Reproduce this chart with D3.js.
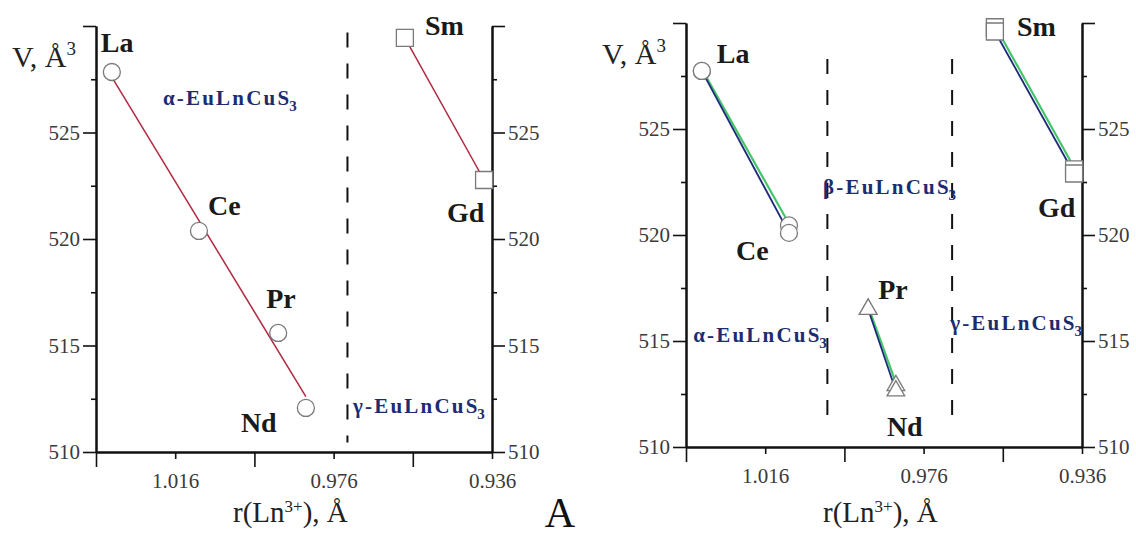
<!DOCTYPE html>
<html>
<head>
<meta charset="utf-8">
<script src="https://cdn.jsdelivr.net/npm/d3@7"></script>
<style>
body { margin:0; background:#fff; }
svg { display:block; }
svg text { font-family:"Liberation Serif","Times New Roman",serif; }
</style>
</head>
<body>
<svg id="chart" width="1136" height="537"></svg>
<script>

// ---- data ----
var elements = ["La", "Ce", "Pr", "Nd", "Sm", "Gd"];
var radii    = [1.032, 1.010, 0.990, 0.983, 0.958, 0.938];

// left plot: one set of volumes
var volLeft  = [527.84, 520.38, 515.59, 512.07, 529.44, 522.77];
var markLeft = ["circle", "circle", "circle", "circle", "square", "square"];
var fitLeftX = [1.032, 0.983];
var fitLeftY = [527.6, 512.6];
var dashLeft = [0.9725];

// right plot: two near-identical series (blue / green)
var volRightBlue  = [527.74, 520.10, 516.50, 512.65, 529.60, 522.90];
var volRightGreen = [527.74, 520.45, 516.50, 512.90, 529.80, 523.10];
var markRight = ["circle", "circle", "triangle", "triangle", "square", "square"];
var segRight  = [[0, 1], [2, 3], [4, 5]];
var dashRight = [1.0003, 0.9688];

var xTicksLong    = [1.036, 0.996, 0.956];
var xTicksLabeled = [1.016, 0.976, 0.936];
var yTicksMajor   = [510, 515, 520, 525, 530];
var yTicksMinor   = [512.5, 517.5, 522.5, 527.5];

var phaseLeft  = ["α", "γ"];
var phaseRight = ["α", "β", "γ"];
// [r, V] where each phase name starts
var phaseLeftAt  = [[1.0191, 526.29], [0.9711, 511.83]];
var phaseRightAt = [[1.0342, 514.95], [1.0014, 521.93], [0.9693, 515.52]];

// ---- layout ----
var svg = d3.select("#chart");
var serif = "'Liberation Serif', 'Times New Roman', serif";

var panels = [
    {left:96, right:492, top:26, bottom:452, dashSpan:[510.45, 529.7]},
    {left:686, right:1082, top:23, bottom:447, dashSpan:[510.9, 528.3]}
];

// label offsets from the point (px)
var labOffLeft = {La:[-11,-20], Ce:[9,-16], Pr:[-12,-25], Nd:[-65,24], Sm:[20,-3], Gd:[-37,42]};
var labOffRight = {La:[15,-8], Ce:[-53,27], Pr:[10,-10], Nd:[-9,45], Sm:[22,5], Gd:[-36,43]};

var symbols = {circle:d3.symbolCircle, square:d3.symbolSquare, triangle:d3.symbolTriangle};
var symSize = {circle:Math.PI*8.5*8.5, square:17*17, triangle:135};

var makeScales = function(p)
{
    var x = d3.scaleLinear().domain([1.036, 0.936]).range([p.left, p.right]);
    var y = d3.scaleLinear().domain([510, 530]).range([p.bottom, p.top]);
    return {x:x, y:y};
}

var drawAxes = function(p, s)
{
    var axes = svg.append("g");
    var bottom = "translate(0," + p.bottom + ")";

    axes.append("g").attr("transform", bottom)
        .call(d3.axisBottom(s.x).tickValues(xTicksLong).tickSize(15).tickSizeOuter(0).tickFormat(""));
    axes.append("g").attr("transform", bottom).attr("class", "lab")
        .call(d3.axisBottom(s.x).tickValues(xTicksLabeled).tickSize(7).tickSizeOuter(0)
            .tickPadding(14).tickFormat(d3.format(".3f")));

    var yFmt = function(d) { return d == 530 ? "" : d; };
    axes.append("g").attr("transform", "translate(" + p.left + ",0)").attr("class", "lab")
        .call(d3.axisLeft(s.y).tickValues(yTicksMajor).tickSize(13).tickSizeOuter(0).tickPadding(3).tickFormat(yFmt));
    axes.append("g").attr("transform", "translate(" + p.left + ",0)")
        .call(d3.axisLeft(s.y).tickValues(yTicksMinor).tickSize(5).tickSizeOuter(0).tickFormat(""));
    axes.append("g").attr("transform", "translate(" + p.right + ",0)").attr("class", "lab")
        .call(d3.axisRight(s.y).tickValues(yTicksMajor).tickSize(13).tickSizeOuter(0).tickPadding(3).tickFormat(yFmt));
    axes.append("g").attr("transform", "translate(" + p.right + ",0)")
        .call(d3.axisRight(s.y).tickValues(yTicksMinor).tickSize(5).tickSizeOuter(0).tickFormat(""));

    axes.selectAll("g").attr("font-family", serif);
    axes.selectAll(".domain").attr("stroke", "#111").attr("stroke-width", 2);
    axes.selectAll(".tick line").attr("stroke", "#111").attr("stroke-width", 1.6);
    axes.selectAll(".lab text")
        .attr("font-family", serif)
        .attr("font-size", 21)
        .attr("fill", "#3a3a3a");

    // axis titles
    var vt = svg.append("text")
        .attr("x", p.left - 84).attr("y", p.top + 41)
        .attr("font-family", serif)
        .attr("font-size", 30).attr("fill", "#222");
    vt.append("tspan").text("V, Å");
    vt.append("tspan").attr("font-size", 19).attr("dy", -12).text("3");

    var rt = svg.append("text")
        .attr("x", p.right - 259).attr("y", 522)
        .attr("font-family", serif)
        .attr("font-size", 29).attr("fill", "#222");
    rt.append("tspan").text("r(Ln");
    rt.append("tspan").attr("font-size", 17).attr("dy", -10).text("3+");
    rt.append("tspan").attr("dy", 10).text("), Å");
}

var drawDashes = function(p, s, xs)
{
    svg.append("g").selectAll("line")
        .data(xs)
        .enter()
        .append("line")
        .attr("x1", function(d) { return s.x(d); })
        .attr("x2", function(d) { return s.x(d); })
        .attr("y1", s.y(p.dashSpan[1]))
        .attr("y2", s.y(p.dashSpan[0]))
        .attr("stroke", "#111")
        .attr("stroke-width", 2)
        .attr("stroke-dasharray", "15,16");
}

var drawMarkers = function(s, vols, marks)
{
    svg.append("g").selectAll("path")
        .data(elements)
        .enter()
        .append("path")
        .attr("transform", function(d, i) { return "translate(" + s.x(radii[i]) + "," + s.y(vols[i]) + ")"; })
        .attr("d", function(d, i) { return d3.symbol().type(symbols[marks[i]]).size(symSize[marks[i]])(); })
        .attr("fill", "#fff")
        .attr("stroke", "#7a7a7a")
        .attr("stroke-width", 1.3);
}

var drawNames = function(s, vols, offs)
{
    svg.append("g").selectAll("text")
        .data(elements)
        .enter()
        .append("text")
        .attr("x", function(d, i) { return s.x(radii[i]) + offs[d][0]; })
        .attr("y", function(d, i) { return s.y(vols[i]) + offs[d][1]; })
        .attr("font-family", serif)
        .attr("font-size", 28)
        .attr("font-weight", "bold")
        .attr("fill", "#1a1a1a")
        .text(function(d) { return d; });
}

var drawPhases = function(s, names, at)
{
    names.forEach(function(n, i)
    {
        var t = svg.append("text")
            .attr("x", s.x(at[i][0])).attr("y", s.y(at[i][1]))
            .attr("font-family", serif)
            .attr("font-size", 21).attr("font-weight", "bold")
            .attr("fill", "#1c2c70");
        t.append("tspan").attr("letter-spacing", 2.2).text(n + "-EuLnCu");
        t.append("tspan").text("S");
        t.append("tspan").attr("font-size", 15).attr("dy", 6).text("3");
    });
}

var line = d3.line();

// ---- left plot ----
var pL = panels[0];
var sL = makeScales(pL);
drawAxes(pL, sL);
drawDashes(pL, sL, dashLeft);

svg.append("path")
    .attr("d", line(fitLeftX.map(function(r, i) { return [sL.x(r), sL.y(fitLeftY[i])]; })))
    .attr("fill", "none").attr("stroke", "#b02a40").attr("stroke-width", 1.5);
svg.append("path")
    .attr("d", line([4, 5].map(function(i) { return [sL.x(radii[i]), sL.y(volLeft[i])]; })))
    .attr("fill", "none").attr("stroke", "#b02a40").attr("stroke-width", 1.5);

drawMarkers(sL, volLeft, markLeft);
drawNames(sL, volLeft, labOffLeft);
drawPhases(sL, phaseLeft, phaseLeftAt);

// ---- right plot ----
var pR = panels[1];
var sR = makeScales(pR);
drawAxes(pR, sR);
drawDashes(pR, sR, dashRight);

var segs = svg.append("g");
[[volRightGreen, "#45c46a", 2.2, 1], [volRightBlue, "#1d2a7a", 1.8, 0]].forEach(function(sv)
{
    segs.append("g").selectAll("path")
        .data(segRight)
        .enter()
        .append("path")
        .attr("d", function(seg) { return line(seg.map(function(i) { return [sR.x(radii[i]) + sv[3], sR.y(sv[0][i])]; })); })
        .attr("fill", "none")
        .attr("stroke", sv[1])
        .attr("stroke-width", sv[2]);
});

drawMarkers(sR, volRightGreen, markRight);
drawMarkers(sR, volRightBlue, markRight);
drawNames(sR, volRightBlue, labOffRight);
drawPhases(sR, phaseRight, phaseRightAt);

// panel letter
svg.append("text")
    .attr("x", 560).attr("y", 527)
    .attr("text-anchor", "middle")
    .attr("font-family", serif)
    .attr("font-size", 42)
    .attr("fill", "#111")
    .text("A");

</script>
</body>
</html>
